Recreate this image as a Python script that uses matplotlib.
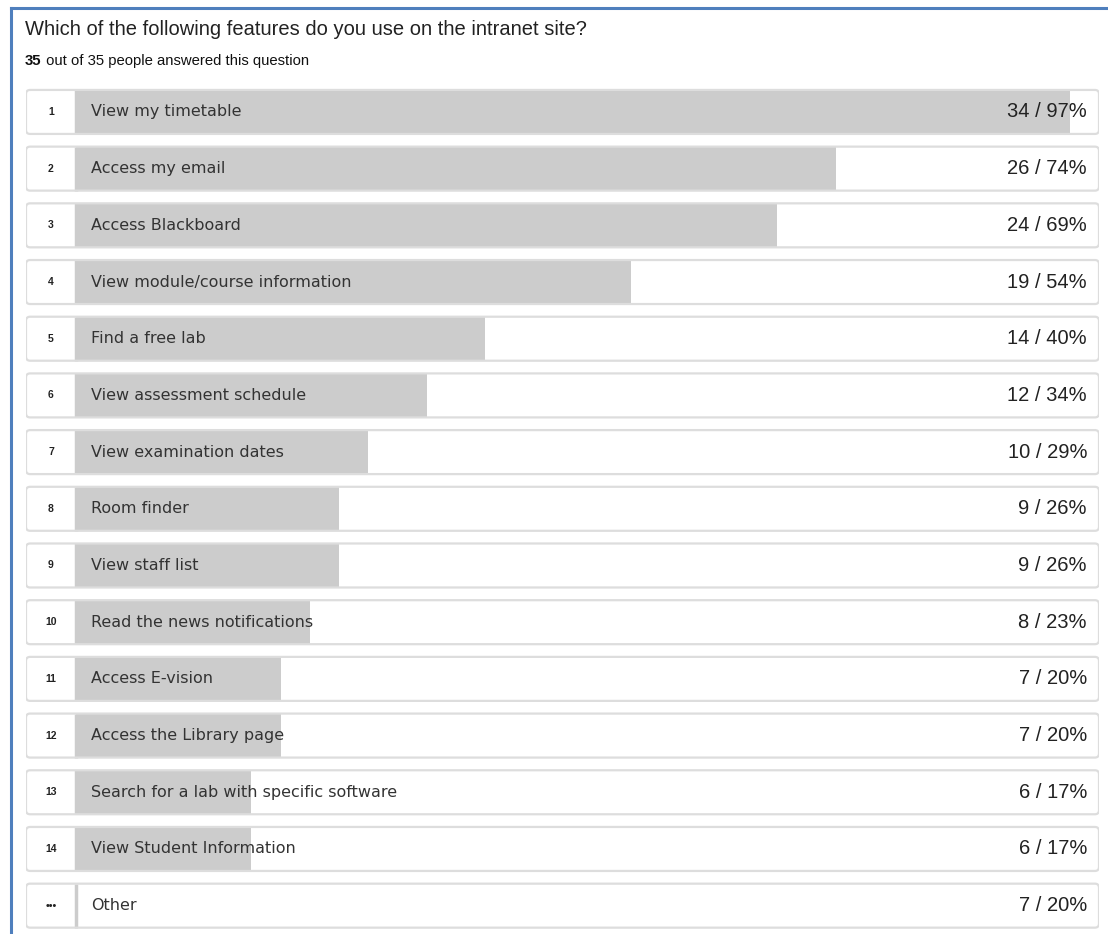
import matplotlib
matplotlib.use("Agg")
import matplotlib.pyplot as plt
from matplotlib.patches import FancyBboxPatch
from matplotlib.lines import Line2D

plt.rcParams["font.family"] = ["Liberation Sans", "DejaVu Sans"]

question = "Which of the following features do you use on the intranet site?"
total_answered = 35
total_people = 35

ranks = ["1", "2", "3", "4", "5", "6", "7", "8", "9", "10", "11", "12", "13", "14", "\u2022\u2022\u2022"]
features = [
    "View my timetable",
    "Access my email",
    "Access Blackboard",
    "View module/course information",
    "Find a free lab",
    "View assessment schedule",
    "View examination dates",
    "Room finder",
    "View staff list",
    "Read the news notifications",
    "Access E-vision",
    "Access the Library page",
    "Search for a lab with specific software",
    "View Student Information",
    "Other",
]
counts = [34, 26, 24, 19, 14, 12, 10, 9, 9, 8, 7, 7, 6, 6, 7]
# the "Other" row is listed without a bar
show_bar = [True] * 14 + [False]

W, H = 1108, 934
fig = plt.figure(figsize=(W / 100, H / 100), dpi=100)
fig.patch.set_facecolor("white")

# axes spans the row boxes; x=0 is where the bars start, x=100 the box's right edge
box_left_px, bar_left_px, box_right_px = 26, 76, 1099
px_per_unit = (box_right_px - bar_left_px) / 100.0
xoff = (bar_left_px - box_left_px) / px_per_unit
top_px = 83.6
ax = fig.add_axes([box_left_px / W, 0.0, (box_right_px - box_left_px) / W, 1 - top_px / H])
n = len(features)
ax.set_xlim(-xoff, 100)
ax.set_ylim(n - 0.5, -0.5)
ax.axis("off")

row_px = (H - top_px) / n
bar_h = 44 / row_px
aspect = px_per_unit / row_px
ys = list(range(n))
pcts = [c / total_people * 100 for c in counts]

for y in ys:
    ax.add_patch(FancyBboxPatch((-xoff, y - bar_h / 2), 100 + xoff, bar_h,
                                boxstyle="round,pad=0,rounding_size=0.4",
                                mutation_aspect=aspect, facecolor="white",
                                edgecolor="none", zorder=1))

bar_vals = [p if s else 0 for p, s in zip(pcts, show_bar)]
ax.barh(ys, bar_vals, left=0, height=bar_h, color="#cccccc", zorder=2)

for y in ys:
    ax.add_patch(FancyBboxPatch((-xoff, y - bar_h / 2), 100 + xoff, bar_h,
                                boxstyle="round,pad=0,rounding_size=0.4",
                                mutation_aspect=aspect, facecolor="none",
                                edgecolor="#dddddd", linewidth=1.6, zorder=3))
    ax.plot([0, 0], [y - bar_h / 2, y + bar_h / 2], color="#cccccc",
            linewidth=2.5, zorder=2.5, solid_capstyle="butt")

for y, rank, feat, c, p in zip(ys, ranks, features, counts, pcts):
    ax.text(-xoff / 2, y, rank, ha="center", va="center", fontsize=7.5,
            fontweight="bold", color="#222222", zorder=4)
    ax.text(15 / px_per_unit, y, feat, ha="left", va="center", fontsize=11.5,
            family=["DejaVu Sans"], color="#333333", zorder=4)
    ax.text(100 - 12 / px_per_unit, y, f"{c} / {round(p)}%", ha="right",
            va="center", fontsize=14.5, color="#222222", zorder=4)

# heading
fig.text(25 / W, 1 - 35 / H, question, ha="left", va="baseline",
         fontsize=14.5, color="#222222")
t1 = fig.text(25 / W, 1 - 65 / H, str(total_answered), ha="left",
              va="baseline", fontsize=10.75, fontweight="bold", color="#111111")
fig.canvas.draw()
ext = t1.get_window_extent()
fig.text(ext.x1 / W, 1 - 65 / H, f" out of {total_people} people answered this question",
         ha="left", va="baseline", fontsize=10.75, color="#111111")

# blue frame on the top and left
frame = "#4f7fbd"
fig.add_artist(Line2D([11 / W, 1], [1 - 8 / H, 1 - 8 / H], color=frame,
                      linewidth=2.2, transform=fig.transFigure))
fig.add_artist(Line2D([11 / W, 11 / W], [0, 1 - 8 / H], color=frame,
                      linewidth=2.2, transform=fig.transFigure))

fig.savefig("out.png", dpi=100, facecolor="white")
